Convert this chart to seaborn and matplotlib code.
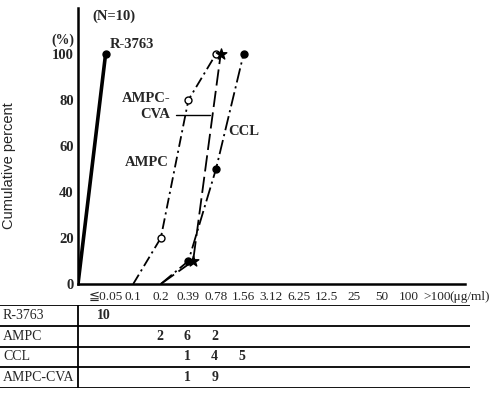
import numpy as np
import pandas as pd
import matplotlib
matplotlib.use("Agg")
import matplotlib.pyplot as plt
import seaborn as sns

# ---- data ----
categories = ["≦0.05", "0.1", "0.2", "0.39", "0.78", "1.56", "3.12",
              "6.25", "12.5", "25", "50", "100", ">100"]
drugs = ["R-3763", "AMPC", "CCL", "AMPC-CVA"]
counts_r3763 = [10, 0, 0, 0, 0, 0, 0, 0, 0, 0, 0, 0, 0]
counts_ampc = [0, 0, 2, 6, 2, 0, 0, 0, 0, 0, 0, 0, 0]
counts_ccl = [0, 0, 0, 1, 4, 5, 0, 0, 0, 0, 0, 0, 0]
counts_cva = [0, 0, 0, 1, 9, 0, 0, 0, 0, 0, 0, 0, 0]
n_strains = 10
yticks = [0, 20, 40, 60, 80, 100]

all_counts = [counts_r3763, counts_ampc, counts_ccl, counts_cva]

sns.set_theme(style="white")
plt.rcParams["font.family"] = ["Liberation Serif", "DejaVu Serif", "DejaVu Sans", "Noto Sans CJK JP"]

W, H = 501, 393
fig = plt.figure(figsize=(W / 100, H / 100), dpi=100)

PX = 27.6  # pixels per category step
x0px, y0px, ytop = 78, 284, 8
xr = 465
ax = fig.add_axes([x0px / W, 1 - y0px / H, (xr - x0px) / W, (y0px - ytop) / H])
ymax = 100 * (y0px - ytop) / (y0px - 54)
ax.set_xlim(0, (xr - x0px) / PX)
ax.set_ylim(0, ymax)

styles = {
    "R-3763": dict(ls="-", lw=2.6, marker="o", mfc="black", ms=5, off=0.0),
    "AMPC": dict(ls=(0, (6, 2.2, 1.2, 2.2)), lw=1.3, marker="o", mfc="white", ms=5, off=0.0),
    "CCL": dict(ls=(0, (8, 2.2, 1.2, 2.2)), lw=1.3, marker="o", mfc="black", ms=5, off=0.0),
    "AMPC-CVA": dict(ls=(0, (9, 3)), lw=1.3, marker="*", mfc="black", ms=8, off=0.17),
}

for name, counts in zip(drugs, all_counts):
    c = np.array(counts)
    cum = np.cumsum(c) / n_strains * 100
    pos = np.arange(1, len(categories) + 1, dtype=float)
    first = int(np.argmax(c > 0))
    last = int(np.argmax(cum >= 100))
    st = styles[name]
    xs = np.concatenate([[pos[first] - 1], pos[first:last + 1] + st["off"]])
    if first == 0:
        xs[0] = 0
    ys = np.concatenate([[0], cum[first:last + 1]])
    df = pd.DataFrame({"x": xs, "y": ys})
    sns.lineplot(data=df, x="x", y="y", ax=ax, color="black", linestyle=st["ls"],
                 lw=st["lw"], sort=False, estimator=None)
    dfm = df.iloc[1:]
    sns.scatterplot(data=dfm, x="x", y="y", ax=ax, marker=st["marker"], s=st["ms"] ** 2,
                    facecolor=st["mfc"], edgecolor="black", linewidth=1.0, zorder=5)

# axes styling
for s in ["top", "right"]:
    ax.spines[s].set_visible(False)
for s in ["left", "bottom"]:
    ax.spines[s].set_linewidth(1.8)
    ax.spines[s].set_color("black")
ax.set_xticks(np.arange(1, len(categories) + 1))
ax.set_xticklabels(categories, fontsize=9.5)
ax.set_yticks(yticks)
ax.set_yticklabels([str(v) for v in yticks], fontsize=10.5, fontweight="bold")
ax.tick_params(axis="both", direction="in", length=4, width=1.3, color="black", pad=3)
ax.tick_params(axis="x", pad=5)
ax.set_xlabel("")
ax.set_ylabel("")

def dx(px):
    return (px - x0px) / PX

def dy(py):
    return (y0px - py) * 100 / (y0px - 54)

ax.text(dx(449), dy(297), "(μg/ml)", fontsize=9.5, ha="left", va="center", clip_on=False)
ax.text(dx(92), dy(16), "(N=10)", fontsize=10.5, fontweight="bold", ha="left", va="center", clip_on=False)
ax.text(dx(110), dy(45), "R-3763", fontsize=10.5, fontweight="bold", ha="left", va="center")
ax.text(dx(122), dy(99), "AMPC-", fontsize=10.5, fontweight="bold", ha="left", va="center")
ax.text(dx(140), dy(115), "CVA", fontsize=10.5, fontweight="bold", ha="left", va="center")
ax.plot([dx(176), dx(210)], [dy(115), dy(115)], color="black", lw=1.0)
ax.text(dx(125), dy(162), "AMPC", fontsize=10.5, fontweight="bold", ha="left", va="center")
ax.text(dx(228), dy(131), "CCL", fontsize=10.5, fontweight="bold", ha="left", va="center")

fig.text(63 / W, 1 - 40 / H, "(%)", fontsize=10, fontweight="bold", ha="center", va="center")
fig.text(9 / W, 1 - 166 / H, "Cumulative percent", fontsize=10.5, rotation=90,
         ha="center", va="center", family=["Liberation Sans", "DejaVu Sans"])

# ---- table ----
tt, tb, tr = 305, 388, 470
ax2 = fig.add_axes([0, 1 - tb / H, tr / W, (tb - tt) / H])
ax2.set_xlim(-x0px / PX, (tr - x0px) / PX)
ax2.set_ylim(len(drugs), 0)
ax2.axis("off")
ax2.hlines(np.arange(len(drugs) + 1), -x0px / PX, (tr - x0px) / PX, color="black", lw=1.3)
ax2.vlines(0, 0, len(drugs), color="black", lw=1.3)
for i, (name, counts) in enumerate(zip(drugs, all_counts)):
    ax2.text(dx(3), i + 0.5, name, fontsize=10, ha="left", va="center")
    for j, v in enumerate(counts):
        if v > 0:
            ax2.text(j + 1 - 0.05, i + 0.5, str(v), fontsize=10, fontweight="bold",
                     ha="center", va="center")

fig.savefig("out.png", dpi=100)
